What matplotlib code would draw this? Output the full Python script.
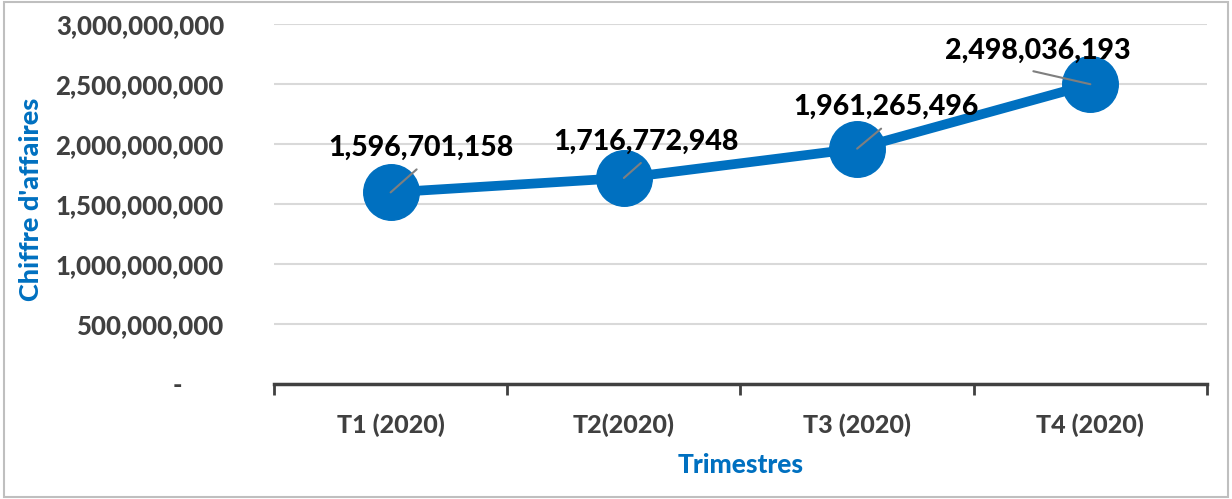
import matplotlib
matplotlib.use("Agg")
import matplotlib.pyplot as plt
import matplotlib.transforms as mtransforms
from matplotlib.patches import Rectangle

# data
trimestres = ["T1 (2020)", "T2(2020)", "T3 (2020)", "T4 (2020)"]
chiffre = [1596701158, 1716772948, 1961265496, 2498036193]
yticks = [0, 500000000, 1000000000, 1500000000, 2000000000, 2500000000, 3000000000]

# label / leader offsets in pixels (text offset, leader end)
label_off = [(30, 45), (22, 36), (29, 42), (-53, 33)]
leader_off = [(26, 23), (17, 15), (24, 20), (-57, 13)]

blue = "#0070C0"
dark = "#404040"
wt = 900
plt.rcParams['font.family'] = ['Lato', 'DejaVu Sans']

fig = plt.figure(figsize=(12.32, 4.99), dpi=100)
ax = fig.add_axes([0.2224, 0.2305, 0.9797 - 0.2224, 0.9519 - 0.2305])

x = list(range(len(trimestres)))
ax.plot(x, chiffre, color=blue, lw=7, marker='o', markersize=40, zorder=3)

for i in range(len(x)):
    ax.annotate('', xy=(x[i], chiffre[i]), xytext=leader_off[i], textcoords='offset pixels',
                arrowprops=dict(arrowstyle='-', color='#7f7f7f', lw=1.5, shrinkA=0, shrinkB=0),
                zorder=5)
    ax.annotate(f"{chiffre[i]:,}", xy=(x[i], chiffre[i]), xytext=label_off[i],
                textcoords='offset pixels', ha='center', va='center',
                fontsize=20.5, fontweight=wt, color='black', zorder=6)

ax.set_xlim(-0.5, 3.5)
ax.set_ylim(0, 3000000000)
ax.set_yticks(yticks)
ax.set_yticklabels(["-" if v == 0 else f"{v:,}" for v in yticks],
                   fontsize=18.5, fontweight=wt, color=dark)
ax.tick_params(axis='y', length=0, pad=36)
# nudge the dash for zero like the accounting format
lab0 = ax.get_yticklabels()[0]
lab0.set_transform(lab0.get_transform() + mtransforms.ScaledTranslation(-0.42, 0, fig.dpi_scale_trans))

ax.set_xticks(x)
ax.set_xticklabels(trimestres, fontsize=18, fontweight=wt, color=dark)
ax.set_xticks([-0.5, 0.5, 1.5, 2.5, 3.5], minor=True)
ax.tick_params(axis='x', which='major', length=0, pad=21)
ax.tick_params(axis='x', which='minor', length=8, width=2, color=dark, direction='out')

ax.grid(axis='y', color='#d9d9d9', lw=1.5)
ax.set_axisbelow(True)
for s in ['top', 'right', 'left']:
    ax.spines[s].set_visible(False)
ax.spines['bottom'].set_color(dark)
ax.spines['bottom'].set_linewidth(2.5)

ax.set_xlabel("Trimestres", fontsize=19, fontweight=wt, color=blue, labelpad=12)
fig.text(0.025, 0.6, "Chiffre d'affaires", rotation=90, ha='center', va='center',
         fontsize=19.5, fontweight=wt, color=blue)

fig.patches.append(Rectangle((0.003, 0.004), 0.994, 0.992, transform=fig.transFigure,
                             fill=False, edgecolor='#bfbfbf', lw=1.5))

fig.savefig("out.png", dpi=100)
